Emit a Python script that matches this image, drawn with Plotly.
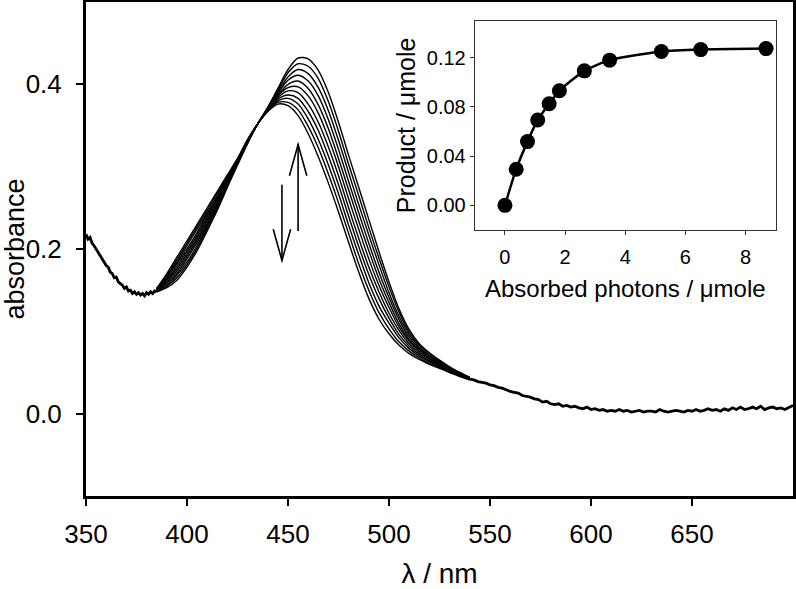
import plotly.graph_objects as go

# ---------------- main spectra data ----------------
# shared (overlapping) short-wavelength part, 1 nm steps
wl_blue = list(range(350, 386))
abs_blue = [0.218, 0.212, 0.214, 0.207, 0.204, 0.200, 0.196, 0.193, 0.188, 0.185,
            0.180, 0.178, 0.172, 0.170, 0.165, 0.166, 0.160, 0.158, 0.156, 0.152,
            0.154, 0.149, 0.150, 0.146, 0.148, 0.145, 0.147, 0.144, 0.146, 0.143,
            0.147, 0.145, 0.148, 0.146, 0.149, 0.148]

# band region where the spectra differ, 5 nm steps
wl_band = list(range(385, 545, 5))
abs_t0 = [.148, .153, .162, .178, .198, .222, .247, .275, .302, .328, .352, .372, .395, .418, .432, .431,
          .417, .390, .354, .314, .275, .236, .197, .160, .127, .102, .085, .074, .065, .057, .050, .044]
abs_t1 = [.148, .155, .165, .181, .201, .225, .249, .277, .303, .329, .352, .372, .393, .414, .425, .422,
          .407, .379, .343, .303, .265, .226, .189, .154, .123, .099, .083, .073, .064, .056, .050, .044]
abs_t2 = [.149, .156, .168, .184, .204, .228, .252, .278, .304, .329, .352, .371, .391, .409, .418, .413,
          .396, .368, .332, .293, .254, .217, .181, .147, .118, .096, .081, .071, .063, .056, .049, .043]
abs_t3 = [.149, .158, .170, .188, .208, .230, .254, .280, .304, .330, .352, .371, .389, .405, .411, .404,
          .386, .357, .321, .282, .244, .207, .172, .141, .114, .093, .079, .070, .062, .055, .049, .043]
abs_t4 = [.150, .160, .173, .191, .211, .233, .256, .281, .305, .330, .352, .370, .387, .400, .404, .395,
          .375, .346, .310, .272, .234, .198, .164, .135, .109, .090, .077, .068, .061, .054, .048, .043]
abs_t5 = [.150, .162, .176, .194, .214, .236, .259, .283, .306, .331, .352, .370, .386, .396, .397, .386,
          .365, .335, .300, .261, .224, .188, .156, .129, .105, .088, .076, .067, .060, .054, .048, .043]
abs_t6 = [.150, .163, .179, .197, .217, .239, .261, .284, .307, .331, .352, .369, .384, .392, .390, .376,
          .354, .324, .289, .250, .213, .178, .148, .122, .101, .085, .074, .066, .059, .053, .047, .042]
abs_t7 = [.151, .165, .182, .200, .220, .242, .263, .286, .308, .332, .352, .369, .382, .387, .383, .367,
          .344, .313, .278, .240, .203, .169, .140, .116, .096, .082, .072, .064, .058, .052, .047, .042]
abs_t8 = [.151, .167, .184, .204, .224, .244, .265, .287, .308, .332, .352, .368, .380, .383, .376, .358,
          .333, .302, .267, .229, .193, .159, .131, .110, .092, .079, .070, .063, .057, .051, .046, .042]
abs_t9 = [.152, .168, .187, .207, .227, .247, .268, .289, .309, .333, .352, .368, .378, .378, .369, .349,
          .323, .291, .256, .219, .182, .150, .123, .103, .087, .076, .068, .061, .056, .051, .046, .041]
abs_t10 = [.152, .170, .190, .210, .230, .250, .270, .290, .310, .333, .352, .367, .376, .374, .362, .340,
           .312, .280, .245, .208, .172, .140, .115, .097, .083, .073, .066, .060, .055, .050, .045, .041]

# shared (overlapping) long-wavelength tail, 2 nm steps
wl_tail = list(range(540, 702, 2))
abs_tail = [.042, .041, .039, .038, .037, .035, .034, .032, .031, .029,
            .027, .026, .025, .022, .021, .020, .018, .017, .014, .015,
            .012, .011, .012, .009, .010, .008, .009, .007, .006, .008,
            .005, .006, .004, .005, .003, .004, .003, .005, .003, .004,
            .002, .003, .004, .002, .003, .003, .002, .005, .003, .002,
            .003, .004, .003, .002, .004, .003, .005, .003, .004, .006,
            .004, .005, .003, .006, .004, .007, .005, .008, .005, .006,
            .008, .006, .009, .005, .007, .008, .006, .007, .005, .008, .010]

# arrows (wavelength, start absorbance, end absorbance)
arrow_down = (447, 0.278, 0.186)
arrow_up = (455, 0.222, 0.327)

# ---------------- inset data ----------------
photons = [0, 0.375, 0.75, 1.09, 1.47, 1.81, 2.64, 3.48, 5.2, 6.51, 8.68]
product = [0.0, 0.0294, 0.0518, 0.0694, 0.0826, 0.0931, 0.1093, 0.118, 0.125, 0.1266, 0.1274]

FONT = "Liberation Sans, Arial, Helvetica, sans-serif"
fig = go.Figure()

band_series = [abs_t0, abs_t1, abs_t2, abs_t3, abs_t4, abs_t5,
               abs_t6, abs_t7, abs_t8, abs_t9, abs_t10]
for s in band_series:
    fig.add_trace(go.Scatter(x=wl_band, y=s, mode="lines",
                             line=dict(color="black", width=1.4, shape="spline", smoothing=0.8),
                             showlegend=False, hoverinfo="skip"))
fig.add_trace(go.Scatter(x=wl_blue, y=abs_blue, mode="lines",
                         line=dict(color="black", width=2.8), showlegend=False))
fig.add_trace(go.Scatter(x=wl_tail, y=abs_tail, mode="lines",
                         line=dict(color="black", width=2.8), showlegend=False))

# inset
fig.add_trace(go.Scatter(x=photons, y=product, mode="lines+markers", xaxis="x2", yaxis="y2",
                         line=dict(color="black", width=2.5, shape="spline", smoothing=0.6),
                         marker=dict(color="black", size=15),
                         showlegend=False))

# arrows as thin line shapes with open heads
hw, hl = 4.3, 0.038
shapes = []
for (x, y0, y1) in [arrow_down, arrow_up]:
    d = 1 if y1 > y0 else -1
    shapes.append(dict(type="line", xref="x", yref="y", x0=x, x1=x, y0=y0, y1=y1,
                       line=dict(color="black", width=1.6)))
    shapes.append(dict(type="path", xref="x", yref="y",
                       path=f"M {x-hw},{y1-d*hl} L {x},{y1} L {x+hw},{y1-d*hl}",
                       line=dict(color="black", width=1.6)))

fig.update_layout(
    width=796, height=589,
    margin=dict(l=86, r=3, t=2, b=93),
    paper_bgcolor="white", plot_bgcolor="white",
    font=dict(family=FONT, color="black"),
    shapes=shapes,
    xaxis=dict(range=[350, 700], tickvals=[350, 400, 450, 500, 550, 600, 650],
               automargin=False, ticklabelstandoff=6,
               showgrid=False, zeroline=False, showline=True, linecolor="black", linewidth=3,
               mirror=True, ticks="outside", ticklen=7, tickwidth=2, tickcolor="black",
               tickfont=dict(size=26, family=FONT),
               title=dict(text="λ / nm", font=dict(size=28, family=FONT), standoff=16)),
    yaxis=dict(range=[-0.1, 0.5], tickvals=[0, 0.2, 0.4], tickformat=".1f",
               automargin=False, ticklabelstandoff=9,
               showgrid=False, zeroline=False, showline=True, linecolor="black", linewidth=3,
               mirror=True, ticks="outside", ticklen=7, tickwidth=2, tickcolor="black",
               tickfont=dict(size=26, family=FONT),
               title=dict(text="absorbance", font=dict(size=27, family=FONT), standoff=8)),
    xaxis2=dict(domain=[0.550, 0.9755], anchor="y2", range=[-1, 9], tickvals=[0, 2, 4, 6, 8],
                automargin=False, ticklabelstandoff=5,
                showgrid=False, zeroline=False, showline=True, linecolor="#333", linewidth=1.2,
                mirror=True, ticks="outside", ticklen=4, tickwidth=1, tickcolor="#333",
                tickfont=dict(size=20, family=FONT),
                title=dict(text="Absorbed photons / μmole", font=dict(size=24, family=FONT), standoff=13)),
    yaxis2=dict(domain=[0.5385, 0.962], anchor="x2", range=[-0.02, 0.15],
                tickvals=[0, 0.04, 0.08, 0.12], tickformat=".2f",
                automargin=False,
                showgrid=False, zeroline=False, showline=True, linecolor="#333", linewidth=1.2,
                mirror=True, ticks="outside", ticklen=4, tickwidth=1, tickcolor="#333",
                tickfont=dict(size=20, family=FONT),
                title=dict(text="Product / μmole", font=dict(size=25, family=FONT), standoff=4)),
)

fig.write_html("out.html", config={"displayModeBar": False},
               post_script="document.body.style.margin='0';document.body.style.overflow='hidden';")
